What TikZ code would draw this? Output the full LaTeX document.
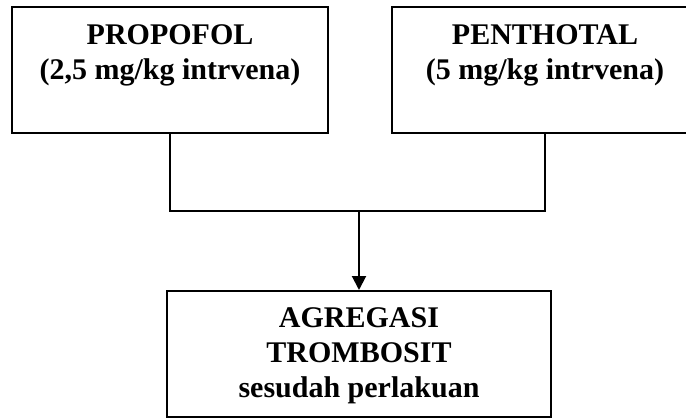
\documentclass[tikz,border=0pt]{standalone}
\usepackage{fontspec}
\setmainfont{Liberation Serif}
\usepackage{tikz}
\usetikzlibrary{positioning}
\usetikzlibrary{arrows.meta}
\tikzstyle{box}=[rectangle, draw=black, line width=2pt, minimum height=126pt]
\tikzstyle{caption}=[align=center, inner sep=0pt, font=\fontsize{30}{35}\selectfont\bfseries]
\tikzstyle{link}=[draw=black, line width=2pt]

\begin{document}
\begin{tikzpicture}[x=1pt, y=1pt, >={Triangle[length=14pt,width=14pt]}]
	\useasboundingbox (0,0) rectangle (686,-418);
	\node (Pbox) at (170,-70) [box, minimum width=316pt] {};
	\node (Tbox) at (545,-70) [box, minimum width=306pt] {};
	\node (Abox) at (359,-354) [box, minimum width=384pt] {};
	\node (Ptext) [below = 18pt of Pbox.north, caption] {PROPOFOL\\(2,5 mg/kg intrvena)};
	\node (Ttext) [below = 18pt of Tbox.north, caption] {PENTHOTAL\\(5 mg/kg intrvena)};
	\node (Atext) [below = 17pt of Abox.north, caption] {AGREGASI\\TROMBOSIT\\sesudah perlakuan};
	\coordinate (level) at (0,-211);
	\coordinate (join) at (Abox.north |- level);
	\draw[link] (Pbox.south) |- (join) -| (Tbox.south);
	\draw[link, ->] (join) -- (Abox.north);
\end{tikzpicture}
\end{document}
